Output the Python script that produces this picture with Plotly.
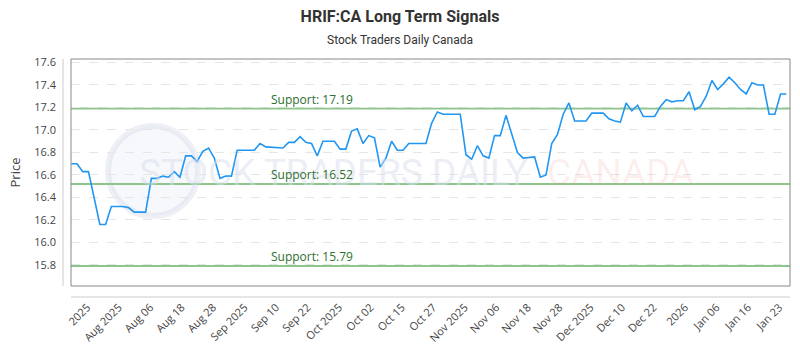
import plotly.graph_objects as go

# ---- data ----
x_idx = [0, 1, 2, 3, 5, 6, 7, 9, 10, 11, 13, 14, 15, 16, 17, 18, 19, 20, 21, 22,
         23, 24, 25, 26, 27, 28, 29, 32, 33, 34, 37, 38, 39, 40, 41, 42, 43, 44, 46, 47,
         48, 49, 50, 51, 52, 53, 54, 55, 56, 57, 58, 59, 62, 63, 64, 65, 68, 69, 70, 71,
         72, 73, 74, 75, 76, 77, 78, 79, 81, 82, 83, 84, 85, 86, 87, 88, 90, 91, 93, 94,
         95, 96, 97, 98, 99, 100, 102, 103, 104, 105, 106, 107, 108, 109, 110, 111, 112, 113, 114, 115,
         116, 117, 118, 119, 120, 121, 122, 123, 124, 125]
prices = [16.70, 16.70, 16.63, 16.63, 16.16, 16.16, 16.32, 16.32, 16.31, 16.27, 16.27, 16.57, 16.57, 16.59, 16.58, 16.63, 16.58, 16.77, 16.77, 16.72,
          16.81, 16.84, 16.75, 16.57, 16.59, 16.59, 16.82, 16.82, 16.88, 16.85, 16.84, 16.89, 16.89, 16.94, 16.89, 16.88, 16.77, 16.90, 16.90, 16.83,
          16.83, 16.99, 17.01, 16.88, 16.95, 16.93, 16.67, 16.75, 16.90, 16.82, 16.82, 16.88, 16.88, 17.06, 17.16, 17.14, 17.14, 16.78, 16.74, 16.86,
          16.77, 16.75, 16.95, 16.95, 17.13, 16.97, 16.80, 16.75, 16.76, 16.58, 16.60, 16.88, 16.96, 17.14, 17.24, 17.08, 17.08, 17.15, 17.15, 17.10,
          17.08, 17.07, 17.24, 17.17, 17.22, 17.12, 17.12, 17.21, 17.27, 17.25, 17.26, 17.26, 17.34, 17.18, 17.21, 17.30, 17.44, 17.36, 17.41, 17.47,
          17.42, 17.36, 17.32, 17.42, 17.40, 17.40, 17.14, 17.14, 17.32, 17.32]

tick_labels = ["2025", "Aug 2025", "Aug 06", "Aug 18", "Aug 28", "Sep 2025", "Sep 10", "Sep 22",
               "Oct 2025", "Oct 02", "Oct 15", "Oct 27", "Nov 2025", "Nov 06", "Nov 18", "Nov 28",
               "Dec 2025", "Dec 10", "Dec 22", "2026", "Jan 06", "Jan 16", "Jan 23"]
y_ticks = [15.8, 16.0, 16.2, 16.4, 16.6, 16.8, 17.0, 17.2, 17.4, 17.6]
support_levels = [17.19, 16.52, 15.79]

# ---- layout helpers ----
PL, PR, PT, PB = 71, 790, 59, 286          # plot area in pixels
PW, PH = PR - PL, PB - PT
def px_x(p): return (p - PL) / PW
def px_y(p): return (PB - p) / PH

tick_start, tick_step = 2.8, 5.5
tick_vals = [tick_start + tick_step * i for i in range(len(tick_labels))]

fig = go.Figure()

# watermark (below everything)
fig.add_shape(type="circle", xref="paper", yref="paper",
              x0=px_x(108), x1=px_x(198), y0=px_y(216), y1=px_y(126),
              line=dict(color="rgba(205,213,230,0.35)", width=6),
              fillcolor="rgba(215,222,238,0.22)", layer="below")
fig.add_annotation(xref="paper", yref="paper", x=px_x(333), y=px_y(172),
                   xanchor="center", yanchor="middle",
                   text="STOCK TRADERS DAILY", showarrow=False,
                   font=dict(family="Roboto, sans-serif", size=37, color="rgba(215,222,236,0.5)"))
fig.add_annotation(xref="paper", yref="paper", x=px_x(620), y=px_y(172),
                   xanchor="center", yanchor="middle",
                   text="CANADA", showarrow=False,
                   font=dict(family="Roboto, sans-serif", size=37, color="rgba(245,150,150,0.16)"))

fig.add_trace(go.Scatter(x=x_idx, y=prices, mode="lines",
                         line=dict(color="#2196f3", width=1.6),
                         hoverinfo="skip", showlegend=False))

# support lines + labels
for lvl in support_levels:
    fig.add_shape(type="line", xref="paper", x0=0, x1=1, yref="y", y0=lvl, y1=lvl,
                  line=dict(color="#8cc68c", width=2), layer="below")
    fig.add_annotation(xref="paper", x=px_x(312), yref="y", y=lvl, text=f"Support: {lvl:.2f}",
                       showarrow=False, xanchor="center", yanchor="bottom", yshift=-1,
                       font=dict(family="Open Sans, Roboto, sans-serif", size=12, color="#2f6f2f"))

# frame and offset axis lines
fig.add_shape(type="rect", xref="paper", yref="paper", x0=0, x1=1, y0=0, y1=1,
              line=dict(color="#888888", width=1), fillcolor="rgba(0,0,0,0)")
fig.add_shape(type="line", xref="paper", yref="paper", x0=px_x(63), x1=px_x(63), y0=0, y1=1,
              line=dict(color="#cccccc", width=1))
fig.add_shape(type="line", xref="paper", yref="paper", x0=0, x1=1, y0=px_y(297), y1=px_y(297),
              line=dict(color="#cccccc", width=1))

fig.add_annotation(xref="paper", yref="paper", x=px_x(400), y=px_y(40),
                   text="Stock Traders Daily Canada", showarrow=False, xanchor="center", yanchor="middle",
                   font=dict(family="Roboto, sans-serif", size=12, color="#333333"))

fig.update_layout(
    width=800, height=350,
    margin=dict(l=PL, r=800 - PR, t=PT, b=350 - PB, autoexpand=False),
    paper_bgcolor="white", plot_bgcolor="white",
    title=dict(text="<b>HRIF:CA Long Term Signals</b>", x=0.5, xanchor="center",
               y=1 - 16 / 350, yanchor="middle",
               font=dict(family="Roboto, sans-serif", size=16, color="#333333")),
    xaxis=dict(range=[-0.05, 125.65], tickmode="array", tickvals=tick_vals, ticktext=tick_labels,
               tickangle=-45, showgrid=False, zeroline=False, showline=False, ticks="",
               ticklabelstandoff=12, automargin=False,
               tickfont=dict(family="Open Sans, sans-serif", size=11, color="#444444")),
    yaxis=dict(range=[15.613, 17.631], tickmode="array",
               tickvals=y_ticks, ticktext=[f"{v:.1f}" for v in y_ticks],
               showgrid=True, gridcolor="#e6e6e6", griddash="dash", gridwidth=1,
               zeroline=False, showline=False, ticks="", ticklabelstandoff=14, automargin=False,
               tickfont=dict(family="Open Sans, sans-serif", size=11, color="#444444"),
               title=dict(text="Price", standoff=10,
                          font=dict(family="Open Sans, sans-serif", size=13, color="#444444"))),
)

fig.write_html("out.html")
